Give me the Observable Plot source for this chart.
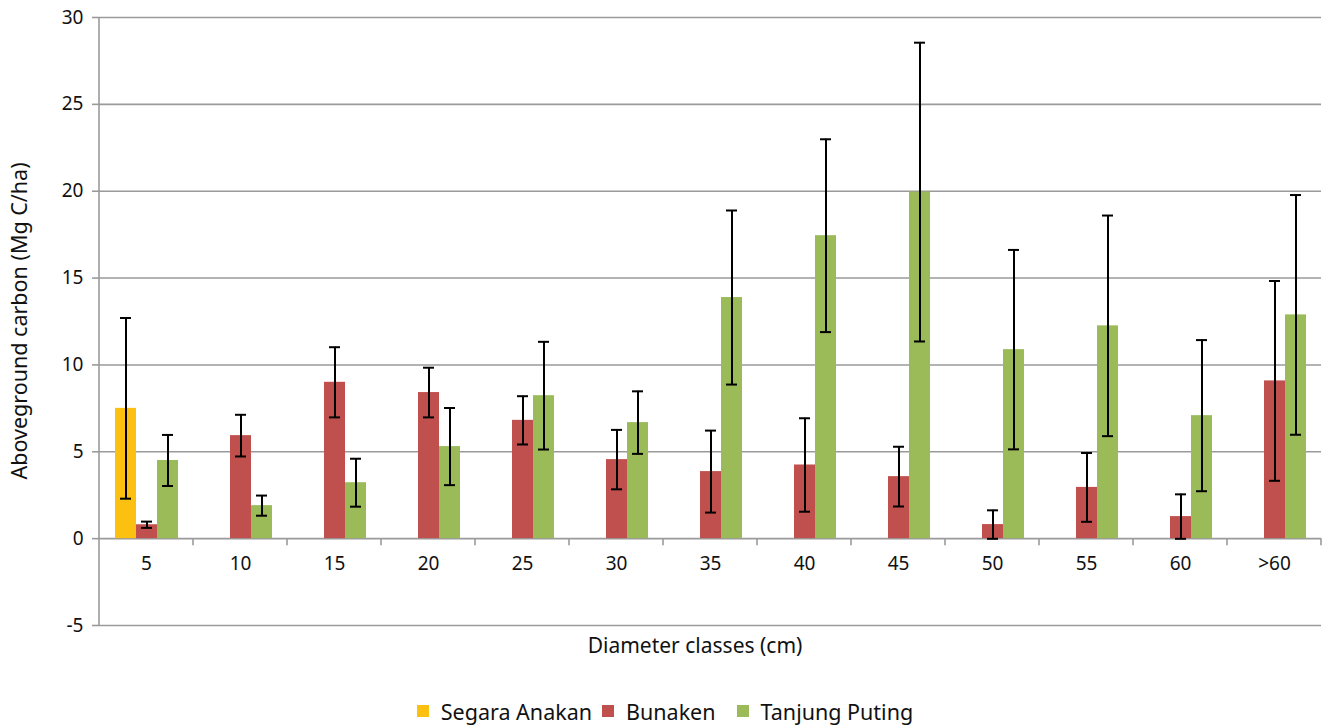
<!DOCTYPE html>
<html>
<head>
<meta charset="utf-8">
<script src="https://cdn.jsdelivr.net/npm/d3@7"></script>
<script src="https://cdn.jsdelivr.net/npm/@observablehq/plot@0.6"></script>
<style>
  html, body { margin: 0; padding: 0; background: #fff; }
  body { width: 1330px; height: 727px; overflow: hidden; font-family: "Noto Sans", sans-serif; }
  #chart svg { display: block; }
  #legend { display: flex; justify-content: center; align-items: center; height: 26px; margin-top: 8px; padding-left: 0px; font-size: 21.5px; color: #111; }
  .item { display: flex; align-items: center; margin: 0 5px; }
  .item.b { margin-right: 16px; }
  .sw { width: 12px; height: 12px; margin-right: 12px; }
</style>
</head>
<body>
<div id="chart"></div>
<div id="legend"></div>
<script>
const categories = ["5", "10", "15", "20", "25", "30", "35", "40", "45", "50", "55", "60", ">60"];
const series = ["Segara Anakan", "Bunaken", "Tanjung Puting"];
const colors = ["#FCC010", "#C0504D", "#9BBB59"];

const segaraValues = [7.5, null, null, null, null, null, null, null, null, null, null, null, null];
const segaraErrors = [5.2, null, null, null, null, null, null, null, null, null, null, null, null];

const bunakenValues = [0.8, 5.93, 9.0, 8.41, 6.81, 4.55, 3.86, 4.24, 3.57, 0.81, 2.95, 1.27, 9.08];
const bunakenErrors = [0.18, 1.2, 2.02, 1.43, 1.39, 1.71, 2.36, 2.69, 1.72, 0.82, 1.98, 1.28, 5.75];

const tanjungValues = [4.5, 1.9, 3.22, 5.3, 8.23, 6.68, 13.88, 17.44, 19.95, 10.88, 12.25, 7.08, 12.88];
const tanjungErrors = [1.47, 0.58, 1.38, 2.22, 3.1, 1.8, 5.01, 5.55, 8.6, 5.74, 6.35, 4.35, 6.9];

const yTicks = [-5, 0, 5, 10, 15, 20, 25, 30];

const seriesData = [
  [series[0], segaraValues, segaraErrors],
  [series[1], bunakenValues, bunakenErrors],
  [series[2], tanjungValues, tanjungErrors]
];
const rows = [];
for (const [name, vals, errs] of seriesData) {
  categories.forEach((c, i) => {
    if (vals[i] != null) rows.push({category: c, series: name, value: vals[i], error: errs[i]});
  });
}

const font = "Noto Sans, sans-serif";
const gridColor = "#9a9a9a";

const plot = Plot.plot({
  width: 1330,
  height: 690,
  marginLeft: 97,
  marginRight: 7,
  marginTop: 17,
  marginBottom: 65,
  style: {fontFamily: font, fontSize: "19px", color: "#111", background: "#fff"},
  fx: {domain: categories, paddingInner: 0, paddingOuter: 0, axis: null, label: null},
  x: {domain: series, paddingInner: 0, paddingOuter: 0.72, axis: null, label: null},
  y: {domain: [-5, 30], label: null},
  color: {domain: series, range: colors},
  marks: [
    Plot.ruleY(yTicks, {stroke: gridColor, strokeWidth: 1.6}),
    Plot.axisY({ticks: yTicks, tickSize: 7, tickPadding: 9, tickFormat: d => String(d), stroke: gridColor, strokeWidth: 1.6, strokeOpacity: 1, label: null, fontSize: 19}),
    Plot.barY(rows, {fx: "category", x: "series", y: "value", fill: "series"}),
    Plot.ruleX(rows, {fx: "category", x: "series", y1: d => d.value - d.error, y2: d => d.value + d.error, stroke: "#000", strokeWidth: 2}),
    Plot.tickY(rows, {fx: "category", x: "series", y: d => d.value + d.error, stroke: "#000", strokeWidth: 2, insetLeft: 5, insetRight: 5}),
    Plot.tickY(rows, {fx: "category", x: "series", y: d => d.value - d.error, stroke: "#000", strokeWidth: 2, insetLeft: 5, insetRight: 5}),
    Plot.text(categories, {fx: d => d, y: () => 0, text: d => d, dy: 25, fontSize: 19, fill: "#111"})
  ]
});

document.getElementById("chart").appendChild(plot);

// axis decorations placed through the plot's own scales
const svg = d3.select(plot);
const fx = plot.scale("fx");
const y = plot.scale("y");
const bw = fx.bandwidth;
const xLeft = fx.apply(categories[0]);
const y0 = y.apply(0);
const g = svg.append("g").attr("stroke", gridColor).attr("stroke-width", 1.6);
g.append("line").attr("x1", xLeft).attr("x2", xLeft).attr("y1", y.apply(30)).attr("y2", y.apply(-5));
categories.forEach(c => {
  const xr = fx.apply(c) + bw;
  g.append("line").attr("x1", xr).attr("x2", xr).attr("y1", y0).attr("y2", y0 + 7);
});

svg.append("text")
  .attr("x", 695).attr("y", 647)
  .attr("text-anchor", "middle").attr("dominant-baseline", "middle")
  .attr("font-family", font).attr("font-size", 21).attr("fill", "#111")
  .text("Diameter classes (cm)");
svg.append("text")
  .attr("transform", `translate(21,${(y.apply(30) + y.apply(-5)) / 2}) rotate(-90)`)
  .attr("text-anchor", "middle").attr("dominant-baseline", "middle")
  .attr("font-family", font).attr("font-size", 21.5).attr("fill", "#111")
  .text("Aboveground carbon (Mg C/ha)");

const legend = d3.select("#legend");
series.forEach((s, i) => {
  const it = legend.append("div").attr("class", i === 1 ? "item b" : "item");
  it.append("div").attr("class", "sw").style("background", colors[i]);
  it.append("span").text(s);
});
</script>
</body>
</html>
